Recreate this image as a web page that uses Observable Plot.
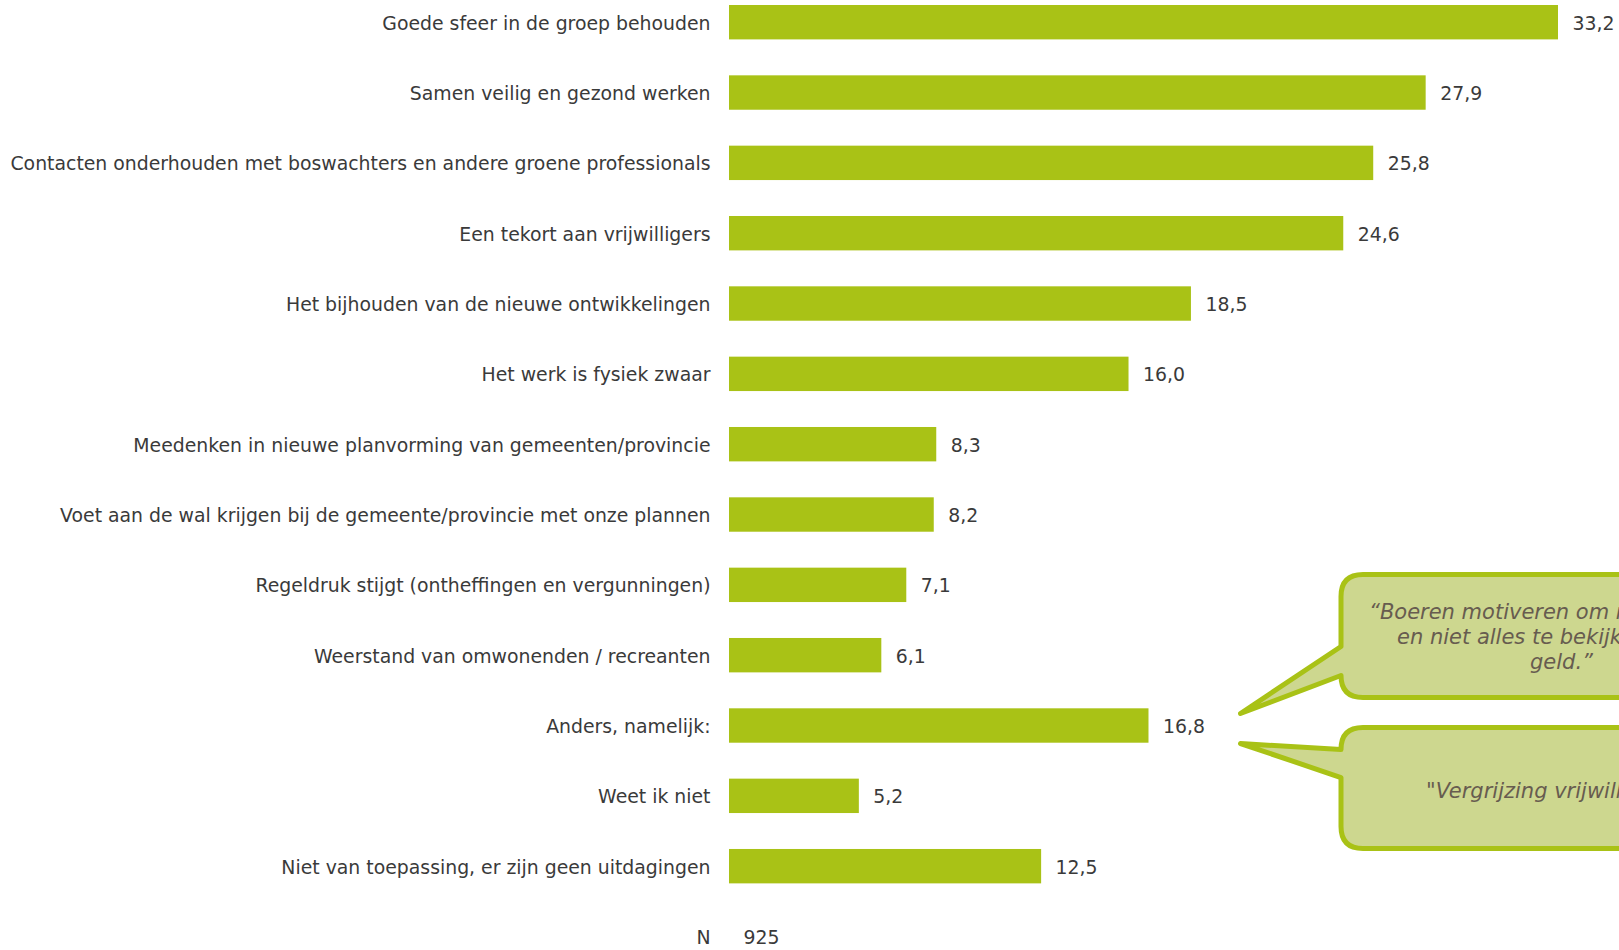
<!DOCTYPE html>
<html>
<head>
<meta charset="utf-8">
<script src="https://cdn.jsdelivr.net/npm/d3@7"></script>
<script src="https://cdn.jsdelivr.net/npm/@observablehq/plot@0.6"></script>
<style>
  html, body { margin: 0; padding: 0; background: #fff; overflow: hidden; }
  #chart svg { display: block; }
</style>
</head>
<body>
<div id="chart"></div>
<script>
// ---- data ----
const categories = [
  "Goede sfeer in de groep behouden",
  "Samen veilig en gezond werken",
  "Contacten onderhouden met boswachters en andere groene professionals",
  "Een tekort aan vrijwilligers",
  "Het bijhouden van de nieuwe ontwikkelingen",
  "Het werk is fysiek zwaar",
  "Meedenken in nieuwe planvorming van gemeenten/provincie",
  "Voet aan de wal krijgen bij de gemeente/provincie met onze plannen",
  "Regeldruk stijgt (ontheffingen en vergunningen)",
  "Weerstand van omwonenden / recreanten",
  "Anders, namelijk:",
  "Weet ik niet",
  "Niet van toepassing, er zijn geen uitdagingen"
];
const values = [33.2, 27.9, 25.8, 24.6, 18.5, 16.0, 8.3, 8.2, 7.1, 6.1, 16.8, 5.2, 12.5];
const nLabel = "N";
const nValue = 925;
const quote1Lines = ["\u201CBoeren motiveren om mee te werken", "en niet alles te bekijken vanuit", "geld.\u201D"];
const quote2Lines = ["\"Vergrijzing vrijwilligers\""];
const calloutCategory = "Anders, namelijk:";

const data = categories.map((c, i) => ({category: c, value: values[i]}));
const fmt = v => d3.format(".1f")(v).replace(".", ",");

const green = "#a9c216";
const textColor = "#3a3a3a";
const fs = 18.85;

const plot = Plot.plot({
  width: 1619,
  height: 950,
  marginTop: 0, marginBottom: 0, marginLeft: 0, marginRight: 0,
  style: {fontFamily: "'DejaVu Sans', Verdana, sans-serif", fontSize: fs + "px", color: textColor, background: "#fff", overflow: "hidden"},
  x: {domain: [0, 33.2], range: [729, 1558], axis: null},
  y: {domain: [...categories, nLabel], range: [5.0, 953.7], paddingInner: 0.511, paddingOuter: 0, align: 0, round: false, axis: null},
  marks: [
    Plot.barX(data, {x: "value", y: "category", fill: green}),
    Plot.text(data, {x: 0, y: "category", text: "category", textAnchor: "end", dx: -19, dy: 1, fontSize: fs, fill: textColor}),
    Plot.text(data, {x: "value", y: "category", text: d => fmt(d.value), textAnchor: "start", dx: 14, dy: 1, fontSize: fs, fill: textColor}),
    Plot.text([nLabel], {x: 0, y: d => d, text: d => d, textAnchor: "end", dx: -19, dy: 1, fontSize: fs, fill: textColor}),
    Plot.text([nValue], {x: 0, y: () => nLabel, text: d => String(d), textAnchor: "start", dx: 14, dy: 1, fontSize: fs, fill: textColor})
  ]
});

document.getElementById("chart").appendChild(plot);

// ---- callouts (annotation) ----
const ys = plot.scale("y");
const xs = plot.scale("x");
const cy = ys.apply(calloutCategory) + ys.bandwidth / 2;
const tipX = xs.apply(values[categories.indexOf(calloutCategory)]) + 92;
const L = 1341, R = 1680, r = 22;

function bubble(top, bottom, a1, a2, tx, ty) {
  return `M${L},${a1} L${L},${top + r} Q${L},${top} ${L + r},${top} L${R},${top} L${R},${bottom} L${L + r},${bottom} Q${L},${bottom} ${L},${bottom - r} L${L},${a2} L${tx},${ty} Z`;
}

const svg = d3.select(plot);
const g = svg.append("g").attr("text-anchor", "start");
g.append("path")
  .attr("d", bubble(cy - 151, cy - 28, cy - 79, cy - 50, tipX, cy - 12))
  .attr("fill", "#cdd78f").attr("stroke", green).attr("stroke-width", 5).attr("stroke-linejoin", "round");
g.append("path")
  .attr("d", bubble(cy + 2, cy + 123, cy + 24, cy + 52, tipX, cy + 18))
  .attr("fill", "#cdd78f").attr("stroke", green).attr("stroke-width", 5).attr("stroke-linejoin", "round");

const qStyle = sel => sel.attr("font-style", "italic").attr("font-size", 21).attr("fill", "#675c4f")
  .attr("text-anchor", "start")
  .attr("font-family", "'DejaVu Sans', Verdana, sans-serif");
const q1x = [1369, 1397, 1530];
quote1Lines.forEach((t, i) => {
  g.append("text").attr("x", q1x[i]).attr("y", cy - 107 + i * 25).text(t).call(qStyle);
});
quote2Lines.forEach((t, i) => {
  g.append("text").attr("x", 1426).attr("y", cy + 72 + i * 25).text(t).call(qStyle);
});
</script>
</body>
</html>
